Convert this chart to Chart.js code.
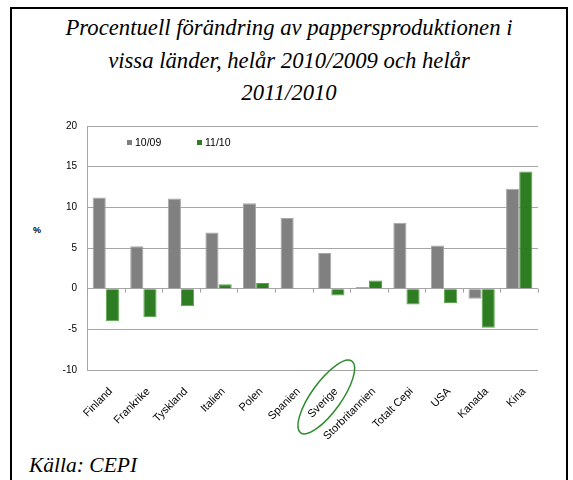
<!DOCTYPE html>
<html lang="sv">
<head>
<meta charset="UTF-8">
<title>Pappersproduktion</title>
<script src="https://cdn.jsdelivr.net/npm/chart.js"></script>
<style>
  body { margin: 0; background: #fff; }
  #frame {
    position: absolute; left: 10px; top: 7px; width: 558px; height: 500px;
    border: 2px solid #000; box-sizing: border-box;
  }
  #title {
    position: absolute; left: 0; top: 3px; width: 100%; text-align: center;
    font-family: 'Liberation Serif', 'Times New Roman', serif; font-style: italic;
    font-size: 22.7px; line-height: 32.5px; color: #000;
  }
  #source {
    position: absolute; left: 17px; top: 444px;
    font-family: 'Liberation Serif', 'Times New Roman', serif; font-style: italic;
    font-size: 21.5px; color: #000;
  }
  #ylab {
    position: absolute; left: 33px; top: 225px;
    font-family: 'Liberation Sans', Arial, sans-serif; font-weight: bold; font-size: 9px; color: #000;
  }
  #wrap { position: absolute; left: 12px; top: 110px; width: 553px; height: 335px; }
</style>
</head>
<body>
<div id="frame">
  <div id="title">Procentuell förändring av pappersproduktionen i<br>vissa länder, helår 2010/2009 och helår<br>2011/2010</div>
  <div id="source">Källa: CEPI</div>
</div>
<div id="ylab">%</div>
<div id="wrap"><canvas id="chart"></canvas></div>

<script>
var countries = ['Finland', 'Frankrike', 'Tyskland', 'Italien', 'Polen', 'Spanien', 'Sverige',
  'Storbritannien', 'Totalt Cepi', 'USA', 'Kanada', 'Kina'];
var change1009 = [11.2, 5.2, 11.1, 6.9, 10.5, 8.7, 4.4, 0.2, 8.1, 5.3, -1.25, 12.3];
var change1110 = [-4.0, -3.5, -2.15, 0.55, 0.7, 0.05, -0.85, 1.0, -1.95, -1.75, -4.8, 14.4];
var yTicks = [-10, -5, 0, 5, 10, 15, 20];
var circled = 'Sverige';

var sans = '"Liberation Sans", Arial, sans-serif';

// legend inside the plot, zero-line ticks and the ring round Sverige
var extras = {
  id: 'extras',
  afterDraw: function (chart) {
    var ctx = chart.ctx, a = chart.chartArea;
    var xs = chart.scales.x, ys = chart.scales.y;
    var y0 = ys.getPixelForValue(0);
    var step = (a.right - a.left) / countries.length;
    ctx.save();
    ctx.strokeStyle = '#a0a0a0';
    ctx.lineWidth = 1;
    for (var i = 0; i <= countries.length; i++) {
      var x = Math.round(a.left + i * step) + 0.5;
      ctx.beginPath(); ctx.moveTo(x, y0); ctx.lineTo(x, y0 + 4); ctx.stroke();
    }
    // legend
    ctx.font = '10.5px ' + sans;
    ctx.textBaseline = 'middle';
    var lx = a.left + 40, ly = a.top + 17;
    chart.data.datasets.forEach(function (ds) {
      ctx.fillStyle = ds.backgroundColor;
      ctx.fillRect(lx, ly - 3, 5, 5);
      ctx.fillStyle = '#000';
      ctx.fillText(ds.label, lx + 8, ly);
      lx += 70;
    });
    // ring
    var ci = countries.indexOf(circled);
    var cx = xs.getPixelForValue(ci) - 5;
    var cy = a.bottom + 27;
    ctx.strokeStyle = '#2e8b2e';
    ctx.lineWidth = 1.5;
    ctx.beginPath();
    ctx.ellipse(cx, cy, 44, 15, -0.95, 0, Math.PI * 2);
    ctx.stroke();
    ctx.restore();
  }
};

new Chart(document.getElementById('chart'), {
  type: 'bar',
  data: {
    labels: countries,
    datasets: [
      { label: '10/09', data: change1009, backgroundColor: '#808080', borderColor: '#a8a8a8', borderWidth: 1 },
      { label: '11/10', data: change1110, backgroundColor: '#2e7d22', borderColor: '#5aa34c', borderWidth: 1 }
    ]
  },
  options: {
    responsive: true,
    maintainAspectRatio: false,
    animation: false,
    layout: { padding: { top: 6, right: 27, left: 0, bottom: 0 } },
    plugins: { legend: { display: false }, tooltip: { enabled: false } },
    datasets: { bar: { categoryPercentage: 0.7, barPercentage: 1.0 } },
    scales: {
      x: {
        grid: { display: false },
        border: { display: false },
        ticks: {
          maxRotation: 45, minRotation: 45, autoSkip: false, padding: 7, labelOffset: 5,
          color: '#000', font: { family: sans, size: 11 }
        },
        afterFit: function (s) { s.height = 75; }
      },
      y: {
        min: -10, max: 20,
        afterBuildTicks: function (s) { s.ticks = yTicks.map(function (v) { return { value: v }; }); },
        grid: { color: '#a6a6a6', drawTicks: false },
        border: { display: true, color: '#a6a6a6' },
        ticks: { padding: 10, color: '#000', font: { family: sans, size: 10 } },
        afterFit: function (s) { s.width = 75; }
      }
    }
  },
  plugins: [extras]
});
</script>
</body>
</html>
